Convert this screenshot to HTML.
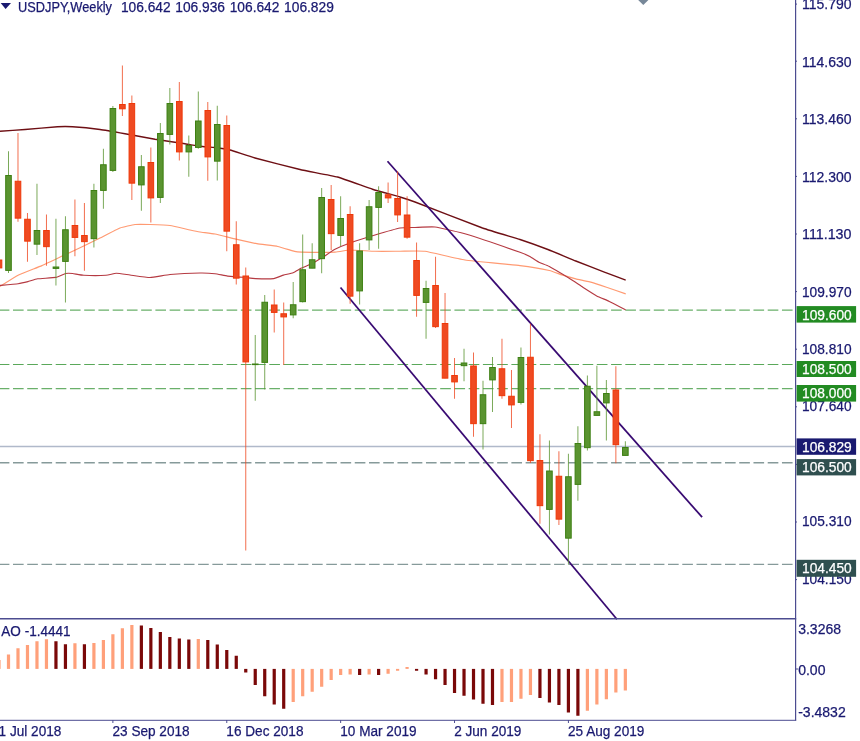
<!DOCTYPE html><html><head><meta charset="utf-8"><title>USDJPY Weekly</title>
<style>html,body{margin:0;padding:0;background:#fff}body{width:860px;height:741px;overflow:hidden}svg{display:block}text{font-family:"Liberation Sans",sans-serif;font-size:14px;fill:#191970;stroke:#191970;stroke-width:0.25px}</style></head><body>
<svg width="860" height="741" viewBox="0 0 860 741">
<rect width="860" height="741" fill="#fff"/>
<line x1="-1.25" y1="310.15" x2="792.6" y2="310.15" stroke="#6ab06a" stroke-width="1.2" stroke-dasharray="10.64 3.6" opacity="1"/>
<line x1="-1.25" y1="364.5" x2="792.6" y2="364.5" stroke="#5aa85a" stroke-width="1.2" stroke-dasharray="10.64 3.6" opacity="1"/>
<line x1="-1.25" y1="388.7" x2="792.6" y2="388.7" stroke="#6ab06a" stroke-width="1.2" stroke-dasharray="10.64 3.6" opacity="1"/>
<line x1="0" y1="446.6" x2="795" y2="446.6" stroke="#b0b9ca" stroke-width="1.5"/>
<line x1="-1.25" y1="462.7" x2="792.6" y2="462.7" stroke="#869a9a" stroke-width="1.4" stroke-dasharray="10.64 3.6" opacity="1"/>
<line x1="-1.25" y1="564.35" x2="792.6" y2="564.35" stroke="#869a9a" stroke-width="1.4" stroke-dasharray="10.64 3.6" opacity="1"/>
<path fill="none" stroke="#ff9a72" stroke-width="1.2" stroke-linejoin="round" d="M0 286.5 C1.21 285.75 15.31 276.69 18.1 275.3 C20.89 273.91 38.92 266.90 41.9 265.6 C44.88 264.30 60.01 257.11 62.8 255.8 C65.59 254.49 81.22 247.19 83.7 246 C86.18 244.81 97.58 239.20 100 238 C102.42 236.80 117.67 228.90 120 228 C122.33 227.10 133.00 224.73 135 224.5 C137.00 224.27 147.67 224.43 150 224.5 C152.33 224.57 167.33 225.13 170 225.5 C172.67 225.87 188.00 229.57 190 230 C192.00 230.43 198.33 231.73 200 232 C201.67 232.27 212.61 233.53 215 234 C217.39 234.47 233.11 238.45 235.9 239.1 C238.69 239.75 254.11 243.21 256.9 243.7 C259.69 244.19 275.29 245.99 277.8 246.5 C280.31 247.01 292.92 251.03 294.5 251.4 C296.08 251.77 298.80 252.05 301.5 252.1 C304.20 252.15 331.77 252.24 335 252.1 C338.23 251.96 347.33 250.06 350 250 C352.67 249.94 371.67 251.17 375 251.25 C378.33 251.33 396.67 251.25 400 251.25 C403.33 251.25 420.67 250.67 425 251.25 C429.33 251.83 458.67 259.04 465 260 C471.33 260.96 514.38 264.90 520 265.6 C525.62 266.30 546.51 269.88 549.3 270.5 C552.09 271.12 560.13 274.35 561.9 274.9 C563.67 275.45 573.94 278.33 575.8 278.8 C577.66 279.27 587.75 281.34 589.8 281.9 C591.85 282.46 604.11 286.40 606.5 287.2 C608.89 288.00 624.42 293.45 625.7 293.9"/>
<path fill="none" stroke="#b53a42" stroke-width="1.15" stroke-linejoin="round" d="M0 285.4 C1.21 285.29 16.24 283.95 18.1 283.7 C19.96 283.45 26.59 281.93 27.9 281.6 C29.21 281.27 35.84 279.08 37.7 278.8 C39.56 278.52 53.94 277.75 55.8 277.4 C57.66 277.05 64.48 273.76 65.6 273.5 C66.72 273.24 71.39 273.38 72.6 273.5 C73.81 273.62 81.47 275.18 83.7 275.3 C85.93 275.42 103.83 275.44 106 275.3 C108.17 275.16 114.65 273.27 116.25 273.25 C117.85 273.23 127.75 274.72 130 275 C132.25 275.28 147.33 277.53 150 277.5 C152.67 277.47 166.67 274.80 170 274.5 C173.33 274.20 197.00 273.05 200 273 C203.00 272.95 213.16 273.49 215 273.7 C216.84 273.91 225.74 275.87 227.6 276.1 C229.46 276.33 241.04 277.03 242.9 277.2 C244.76 277.37 253.45 278.51 255.5 278.6 C257.55 278.69 271.74 278.83 273.6 278.6 C275.46 278.37 282.10 275.49 283.4 275.1 C284.70 274.71 291.89 273.17 293.1 272.7 C294.31 272.23 300.19 268.73 301.5 268.1 C302.81 267.47 311.21 264.07 312.7 263.3 C314.19 262.53 322.31 257.53 323.8 256.6 C325.29 255.67 333.25 250.21 335 249.3 C336.75 248.39 347.33 243.95 350 243 C352.67 242.05 371.67 236.00 375 235 C378.33 234.00 397.33 228.50 400 228 C402.67 227.50 412.67 227.57 415 227.5 C417.33 227.43 431.50 226.53 435 227 C438.50 227.47 461.83 232.81 467.5 234.5 C473.17 236.19 515.85 250.83 520 252.3 C524.15 253.77 528.50 255.82 529.8 256.5 C531.10 257.18 538.20 261.83 539.5 262.5 C540.80 263.17 547.35 265.56 549.3 266.6 C551.25 267.64 566.57 276.73 568.8 278.1 C571.03 279.47 580.94 286.01 582.8 287.2 C584.66 288.39 594.93 294.95 596.7 295.9 C598.47 296.85 607.37 300.47 609.3 301.4 C611.23 302.33 624.61 309.24 625.7 309.8"/>
<path fill="none" stroke="#6e0f14" stroke-width="1.35" stroke-linejoin="round" d="M0 131.25 C1.67 131.13 21.17 129.80 25 129.5 C28.83 129.20 54.33 126.93 57.5 126.75 C60.67 126.57 69.67 126.57 72.5 126.75 C75.33 126.93 96.50 129.03 100 129.5 C103.50 129.97 121.33 133.10 125 133.75 C128.67 134.40 151.00 138.58 155 139.25 C159.00 139.92 182.00 143.28 185 143.75 C188.00 144.22 198.00 146.00 200 146.25 C202.00 146.50 213.00 147.25 215 147.5 C217.00 147.75 227.33 149.30 230 150 C232.67 150.70 250.33 156.70 255 158 C259.67 159.30 294.50 168.23 300 169.5 C305.50 170.77 332.67 175.68 337.5 177 C342.33 178.32 368.33 187.92 372.5 189.25 C376.67 190.58 397.17 196.15 400 197 C402.83 197.85 409.50 199.93 415 202 C420.50 204.07 475.50 225.50 482.5 228 C489.50 230.50 515.64 238.07 520 239.5 C524.36 240.93 544.18 248.07 547.9 249.5 C551.62 250.93 572.08 259.51 575.8 261 C579.52 262.49 600.37 270.62 603.7 271.9 C607.03 273.18 624.23 279.65 625.7 280.2"/>
<line x1="387.5" y1="161.25" x2="702.1" y2="517.2" stroke="#380a72" stroke-width="1.75"/>
<line x1="340.5" y1="287.5" x2="616.9" y2="619.3" stroke="#380a72" stroke-width="1.75"/>
<line x1="-0.99" y1="259.5" x2="-0.99" y2="268" stroke="#ef4a22" stroke-width="1" opacity="0.8"/>
<rect x="-3.79" y="260.00" width="5.6" height="7.90" fill="#ef4a22" stroke="#ee3808" stroke-width="1"/>
<line x1="8.50" y1="151.25" x2="8.50" y2="273" stroke="#5a9430" stroke-width="1" opacity="0.8"/>
<rect x="5.70" y="175.50" width="5.6" height="94.90" fill="#5a9430" stroke="#3d7f12" stroke-width="1"/>
<line x1="17.99" y1="133" x2="17.99" y2="221.75" stroke="#ef4a22" stroke-width="1" opacity="0.8"/>
<rect x="15.19" y="181.25" width="5.6" height="36.90" fill="#ef4a22" stroke="#ee3808" stroke-width="1"/>
<line x1="27.48" y1="213" x2="27.48" y2="261.75" stroke="#ef4a22" stroke-width="1" opacity="0.8"/>
<rect x="24.68" y="219.25" width="5.6" height="21.90" fill="#ef4a22" stroke="#ee3808" stroke-width="1"/>
<line x1="36.97" y1="183.75" x2="36.97" y2="255" stroke="#5a9430" stroke-width="1" opacity="0.8"/>
<rect x="34.17" y="230.50" width="5.6" height="13.65" fill="#5a9430" stroke="#3d7f12" stroke-width="1"/>
<line x1="46.46" y1="214.5" x2="46.46" y2="265.75" stroke="#ef4a22" stroke-width="1" opacity="0.8"/>
<rect x="43.66" y="230.50" width="5.6" height="16.15" fill="#ef4a22" stroke="#ee3808" stroke-width="1"/>
<line x1="55.95" y1="218.75" x2="55.95" y2="285.5" stroke="#5a9430" stroke-width="1" opacity="0.8"/>
<rect x="53.15" y="267.00" width="5.6" height="1.40" fill="#5a9430" stroke="#3d7f12" stroke-width="1"/>
<line x1="65.44" y1="216.25" x2="65.44" y2="302.5" stroke="#5a9430" stroke-width="1" opacity="0.8"/>
<rect x="62.64" y="229.75" width="5.6" height="31.65" fill="#5a9430" stroke="#3d7f12" stroke-width="1"/>
<line x1="74.93" y1="199.5" x2="74.93" y2="256.25" stroke="#ef4a22" stroke-width="1" opacity="0.8"/>
<rect x="72.13" y="225.50" width="5.6" height="11.90" fill="#ef4a22" stroke="#ee3808" stroke-width="1"/>
<line x1="84.42" y1="203" x2="84.42" y2="270.75" stroke="#ef4a22" stroke-width="1" opacity="0.8"/>
<rect x="81.62" y="235.50" width="5.6" height="6.15" fill="#ef4a22" stroke="#ee3808" stroke-width="1"/>
<line x1="93.91" y1="183.75" x2="93.91" y2="247.5" stroke="#5a9430" stroke-width="1" opacity="0.8"/>
<rect x="91.11" y="190.50" width="5.6" height="48.15" fill="#5a9430" stroke="#3d7f12" stroke-width="1"/>
<line x1="103.40" y1="148.75" x2="103.40" y2="208.75" stroke="#5a9430" stroke-width="1" opacity="0.8"/>
<rect x="100.60" y="164.75" width="5.6" height="25.65" fill="#5a9430" stroke="#3d7f12" stroke-width="1"/>
<line x1="112.89" y1="106" x2="112.89" y2="172" stroke="#5a9430" stroke-width="1" opacity="0.8"/>
<rect x="110.09" y="108.50" width="5.6" height="61.90" fill="#5a9430" stroke="#3d7f12" stroke-width="1"/>
<line x1="122.38" y1="65.5" x2="122.38" y2="116" stroke="#ef4a22" stroke-width="1" opacity="0.8"/>
<rect x="119.58" y="104.50" width="5.6" height="4.30" fill="#ef4a22" stroke="#ee3808" stroke-width="1"/>
<line x1="131.87" y1="95.5" x2="131.87" y2="200" stroke="#ef4a22" stroke-width="1" opacity="0.8"/>
<rect x="129.07" y="103.50" width="5.6" height="79.65" fill="#ef4a22" stroke="#ee3808" stroke-width="1"/>
<line x1="141.36" y1="155" x2="141.36" y2="210.75" stroke="#5a9430" stroke-width="1" opacity="0.8"/>
<rect x="138.56" y="166.75" width="5.6" height="18.15" fill="#5a9430" stroke="#3d7f12" stroke-width="1"/>
<line x1="150.85" y1="147.5" x2="150.85" y2="222.5" stroke="#ef4a22" stroke-width="1" opacity="0.8"/>
<rect x="148.05" y="162.50" width="5.6" height="35.40" fill="#ef4a22" stroke="#ee3808" stroke-width="1"/>
<line x1="160.34" y1="123" x2="160.34" y2="203" stroke="#5a9430" stroke-width="1" opacity="0.8"/>
<rect x="157.54" y="133.50" width="5.6" height="63.90" fill="#5a9430" stroke="#3d7f12" stroke-width="1"/>
<line x1="169.83" y1="88" x2="169.83" y2="144.5" stroke="#5a9430" stroke-width="1" opacity="0.8"/>
<rect x="167.03" y="103.50" width="5.6" height="30.90" fill="#5a9430" stroke="#3d7f12" stroke-width="1"/>
<line x1="179.32" y1="82" x2="179.32" y2="160.5" stroke="#ef4a22" stroke-width="1" opacity="0.8"/>
<rect x="176.52" y="101.50" width="5.6" height="50.40" fill="#ef4a22" stroke="#ee3808" stroke-width="1"/>
<line x1="188.81" y1="135.5" x2="188.81" y2="176.75" stroke="#5a9430" stroke-width="1" opacity="0.8"/>
<rect x="186.01" y="145.50" width="5.6" height="6.40" fill="#5a9430" stroke="#3d7f12" stroke-width="1"/>
<line x1="198.30" y1="91.5" x2="198.30" y2="148.75" stroke="#5a9430" stroke-width="1" opacity="0.8"/>
<rect x="195.50" y="121.00" width="5.6" height="26.40" fill="#5a9430" stroke="#3d7f12" stroke-width="1"/>
<line x1="207.79" y1="102" x2="207.79" y2="180.75" stroke="#ef4a22" stroke-width="1" opacity="0.8"/>
<rect x="204.99" y="110.50" width="5.6" height="46.40" fill="#ef4a22" stroke="#ee3808" stroke-width="1"/>
<line x1="217.28" y1="105.75" x2="217.28" y2="180.5" stroke="#5a9430" stroke-width="1" opacity="0.8"/>
<rect x="214.48" y="124.50" width="5.6" height="36.65" fill="#5a9430" stroke="#3d7f12" stroke-width="1"/>
<line x1="226.77" y1="115.5" x2="226.77" y2="251.25" stroke="#ef4a22" stroke-width="1" opacity="0.8"/>
<rect x="223.97" y="125.50" width="5.6" height="105.65" fill="#ef4a22" stroke="#ee3808" stroke-width="1"/>
<line x1="236.26" y1="221.25" x2="236.26" y2="284.5" stroke="#ef4a22" stroke-width="1" opacity="0.8"/>
<rect x="233.46" y="244.75" width="5.6" height="33.40" fill="#ef4a22" stroke="#ee3808" stroke-width="1"/>
<line x1="245.75" y1="267.5" x2="245.75" y2="550.5" stroke="#ef4a22" stroke-width="1" opacity="0.8"/>
<rect x="242.95" y="276.00" width="5.6" height="85.90" fill="#ef4a22" stroke="#ee3808" stroke-width="1"/>
<line x1="255.24" y1="335" x2="255.24" y2="400.75" stroke="#5a9430" stroke-width="1" opacity="0.8"/>
<rect x="251.94" y="363.5" width="6.6" height="1.60" fill="#3d7f12"/>
<line x1="264.73" y1="295" x2="264.73" y2="389.5" stroke="#5a9430" stroke-width="1" opacity="0.8"/>
<rect x="261.93" y="302.25" width="5.6" height="60.15" fill="#5a9430" stroke="#3d7f12" stroke-width="1"/>
<line x1="274.22" y1="289.5" x2="274.22" y2="332.5" stroke="#ef4a22" stroke-width="1" opacity="0.8"/>
<rect x="271.42" y="305.00" width="5.6" height="7.40" fill="#ef4a22" stroke="#ee3808" stroke-width="1"/>
<line x1="283.71" y1="302.5" x2="283.71" y2="365" stroke="#ef4a22" stroke-width="1" opacity="0.8"/>
<rect x="280.91" y="313.75" width="5.6" height="3.15" fill="#ef4a22" stroke="#ee3808" stroke-width="1"/>
<line x1="293.20" y1="282" x2="293.20" y2="318.25" stroke="#5a9430" stroke-width="1" opacity="0.8"/>
<rect x="290.40" y="304.75" width="5.6" height="10.15" fill="#5a9430" stroke="#3d7f12" stroke-width="1"/>
<line x1="302.69" y1="234.5" x2="302.69" y2="302.5" stroke="#5a9430" stroke-width="1" opacity="0.8"/>
<rect x="299.89" y="269.75" width="5.6" height="31.90" fill="#5a9430" stroke="#3d7f12" stroke-width="1"/>
<line x1="312.18" y1="243.25" x2="312.18" y2="268.25" stroke="#5a9430" stroke-width="1" opacity="0.8"/>
<rect x="309.38" y="259.75" width="5.6" height="8.40" fill="#5a9430" stroke="#3d7f12" stroke-width="1"/>
<line x1="321.67" y1="188" x2="321.67" y2="273.25" stroke="#5a9430" stroke-width="1" opacity="0.8"/>
<rect x="318.87" y="197.50" width="5.6" height="61.15" fill="#5a9430" stroke="#3d7f12" stroke-width="1"/>
<line x1="331.16" y1="185" x2="331.16" y2="250" stroke="#ef4a22" stroke-width="1" opacity="0.8"/>
<rect x="328.36" y="199.50" width="5.6" height="34.15" fill="#ef4a22" stroke="#ee3808" stroke-width="1"/>
<line x1="340.65" y1="196.25" x2="340.65" y2="246.25" stroke="#5a9430" stroke-width="1" opacity="0.8"/>
<rect x="337.85" y="218.50" width="5.6" height="16.90" fill="#5a9430" stroke="#3d7f12" stroke-width="1"/>
<line x1="350.14" y1="206.25" x2="350.14" y2="303.75" stroke="#ef4a22" stroke-width="1" opacity="0.8"/>
<rect x="347.34" y="214.50" width="5.6" height="81.65" fill="#ef4a22" stroke="#ee3808" stroke-width="1"/>
<line x1="359.63" y1="243.25" x2="359.63" y2="304.5" stroke="#5a9430" stroke-width="1" opacity="0.8"/>
<rect x="356.83" y="251.00" width="5.6" height="39.90" fill="#5a9430" stroke="#3d7f12" stroke-width="1"/>
<line x1="369.12" y1="200" x2="369.12" y2="250" stroke="#5a9430" stroke-width="1" opacity="0.8"/>
<rect x="366.32" y="206.75" width="5.6" height="33.15" fill="#5a9430" stroke="#3d7f12" stroke-width="1"/>
<line x1="378.61" y1="186.25" x2="378.61" y2="248.75" stroke="#5a9430" stroke-width="1" opacity="0.8"/>
<rect x="375.81" y="192.50" width="5.6" height="14.90" fill="#5a9430" stroke="#3d7f12" stroke-width="1"/>
<line x1="388.10" y1="182.5" x2="388.10" y2="203" stroke="#ef4a22" stroke-width="1" opacity="0.8"/>
<rect x="385.30" y="194.75" width="5.6" height="3.15" fill="#ef4a22" stroke="#ee3808" stroke-width="1"/>
<line x1="397.59" y1="171.25" x2="397.59" y2="222" stroke="#ef4a22" stroke-width="1" opacity="0.8"/>
<rect x="394.79" y="198.50" width="5.6" height="16.40" fill="#ef4a22" stroke="#ee3808" stroke-width="1"/>
<line x1="407.08" y1="196.25" x2="407.08" y2="238.75" stroke="#ef4a22" stroke-width="1" opacity="0.8"/>
<rect x="404.28" y="215.00" width="5.6" height="22.15" fill="#ef4a22" stroke="#ee3808" stroke-width="1"/>
<line x1="416.57" y1="242.5" x2="416.57" y2="316.75" stroke="#ef4a22" stroke-width="1" opacity="0.8"/>
<rect x="413.77" y="260.50" width="5.6" height="34.90" fill="#ef4a22" stroke="#ee3808" stroke-width="1"/>
<line x1="426.06" y1="280.75" x2="426.06" y2="338.75" stroke="#5a9430" stroke-width="1" opacity="0.8"/>
<rect x="423.26" y="288.50" width="5.6" height="13.90" fill="#5a9430" stroke="#3d7f12" stroke-width="1"/>
<line x1="435.55" y1="256.75" x2="435.55" y2="328" stroke="#ef4a22" stroke-width="1" opacity="0.8"/>
<rect x="432.75" y="285.50" width="5.6" height="41.15" fill="#ef4a22" stroke="#ee3808" stroke-width="1"/>
<line x1="445.04" y1="293" x2="445.04" y2="378.25" stroke="#ef4a22" stroke-width="1" opacity="0.8"/>
<rect x="442.24" y="323.50" width="5.6" height="54.65" fill="#ef4a22" stroke="#ee3808" stroke-width="1"/>
<line x1="454.53" y1="358" x2="454.53" y2="398.75" stroke="#ef4a22" stroke-width="1" opacity="0.8"/>
<rect x="451.73" y="375.50" width="5.6" height="6.40" fill="#ef4a22" stroke="#ee3808" stroke-width="1"/>
<line x1="464.02" y1="348.75" x2="464.02" y2="381.25" stroke="#5a9430" stroke-width="1" opacity="0.8"/>
<rect x="461.22" y="363.00" width="5.6" height="2.65" fill="#5a9430" stroke="#3d7f12" stroke-width="1"/>
<line x1="473.51" y1="352.5" x2="473.51" y2="436.75" stroke="#ef4a22" stroke-width="1" opacity="0.8"/>
<rect x="470.71" y="366.00" width="5.6" height="57.65" fill="#ef4a22" stroke="#ee3808" stroke-width="1"/>
<line x1="483.00" y1="380.75" x2="483.00" y2="449.5" stroke="#5a9430" stroke-width="1" opacity="0.8"/>
<rect x="480.20" y="394.75" width="5.6" height="28.90" fill="#5a9430" stroke="#3d7f12" stroke-width="1"/>
<line x1="492.49" y1="357" x2="492.49" y2="412" stroke="#5a9430" stroke-width="1" opacity="0.8"/>
<rect x="489.69" y="367.50" width="5.6" height="12.40" fill="#5a9430" stroke="#3d7f12" stroke-width="1"/>
<line x1="501.98" y1="338.75" x2="501.98" y2="398.75" stroke="#ef4a22" stroke-width="1" opacity="0.8"/>
<rect x="499.18" y="368.75" width="5.6" height="26.90" fill="#ef4a22" stroke="#ee3808" stroke-width="1"/>
<line x1="511.47" y1="370" x2="511.47" y2="428" stroke="#ef4a22" stroke-width="1" opacity="0.8"/>
<rect x="508.67" y="396.25" width="5.6" height="8.65" fill="#ef4a22" stroke="#ee3808" stroke-width="1"/>
<line x1="520.96" y1="347.5" x2="520.96" y2="404.5" stroke="#5a9430" stroke-width="1" opacity="0.8"/>
<rect x="518.16" y="357.50" width="5.6" height="44.90" fill="#5a9430" stroke="#3d7f12" stroke-width="1"/>
<line x1="530.45" y1="323.75" x2="530.45" y2="463" stroke="#ef4a22" stroke-width="1" opacity="0.8"/>
<rect x="527.65" y="357.25" width="5.6" height="103.40" fill="#ef4a22" stroke="#ee3808" stroke-width="1"/>
<line x1="539.94" y1="434.25" x2="539.94" y2="523.75" stroke="#ef4a22" stroke-width="1" opacity="0.8"/>
<rect x="537.14" y="460.50" width="5.6" height="45.15" fill="#ef4a22" stroke="#ee3808" stroke-width="1"/>
<line x1="549.43" y1="440.5" x2="549.43" y2="534.5" stroke="#5a9430" stroke-width="1" opacity="0.8"/>
<rect x="546.63" y="471.00" width="5.6" height="38.40" fill="#5a9430" stroke="#3d7f12" stroke-width="1"/>
<line x1="558.92" y1="451.25" x2="558.92" y2="525" stroke="#ef4a22" stroke-width="1" opacity="0.8"/>
<rect x="556.12" y="476.25" width="5.6" height="42.90" fill="#ef4a22" stroke="#ee3808" stroke-width="1"/>
<line x1="568.41" y1="453.75" x2="568.41" y2="564.25" stroke="#5a9430" stroke-width="1" opacity="0.8"/>
<rect x="565.61" y="476.75" width="5.6" height="61.40" fill="#5a9430" stroke="#3d7f12" stroke-width="1"/>
<line x1="577.90" y1="426.25" x2="577.90" y2="500.75" stroke="#5a9430" stroke-width="1" opacity="0.8"/>
<rect x="575.10" y="443.50" width="5.6" height="40.90" fill="#5a9430" stroke="#3d7f12" stroke-width="1"/>
<line x1="587.39" y1="375.5" x2="587.39" y2="450.5" stroke="#5a9430" stroke-width="1" opacity="0.8"/>
<rect x="584.59" y="386.25" width="5.6" height="61.40" fill="#5a9430" stroke="#3d7f12" stroke-width="1"/>
<line x1="596.88" y1="365.75" x2="596.88" y2="415.5" stroke="#5a9430" stroke-width="1" opacity="0.8"/>
<rect x="594.08" y="411.75" width="5.6" height="3.65" fill="#5a9430" stroke="#3d7f12" stroke-width="1"/>
<line x1="606.37" y1="380" x2="606.37" y2="440.5" stroke="#5a9430" stroke-width="1" opacity="0.8"/>
<rect x="603.57" y="393.50" width="5.6" height="9.40" fill="#5a9430" stroke="#3d7f12" stroke-width="1"/>
<line x1="615.86" y1="366.25" x2="615.86" y2="463.25" stroke="#ef4a22" stroke-width="1" opacity="0.8"/>
<rect x="613.06" y="390.00" width="5.6" height="54.65" fill="#ef4a22" stroke="#ee3808" stroke-width="1"/>
<line x1="625.35" y1="441.25" x2="625.35" y2="455.5" stroke="#5a9430" stroke-width="1" opacity="0.8"/>
<rect x="622.55" y="447.50" width="5.6" height="7.90" fill="#5a9430" stroke="#3d7f12" stroke-width="1"/>
<rect x="-2.59" y="660" width="3.2" height="8.90" fill="#ffa07a"/>
<rect x="6.90" y="654.5" width="3.2" height="14.40" fill="#ffa07a"/>
<rect x="16.39" y="648.25" width="3.2" height="20.65" fill="#ffa07a"/>
<rect x="25.88" y="645" width="3.2" height="23.90" fill="#ffa07a"/>
<rect x="35.37" y="641.25" width="3.2" height="27.65" fill="#ffa07a"/>
<rect x="44.86" y="639.25" width="3.2" height="29.65" fill="#ffa07a"/>
<rect x="54.35" y="641.25" width="3.2" height="27.65" fill="#7a0808"/>
<rect x="63.84" y="644.25" width="3.2" height="24.65" fill="#7a0808"/>
<rect x="73.33" y="643.25" width="3.2" height="25.65" fill="#ffa07a"/>
<rect x="82.82" y="644.25" width="3.2" height="24.65" fill="#7a0808"/>
<rect x="92.31" y="643" width="3.2" height="25.90" fill="#ffa07a"/>
<rect x="101.80" y="640" width="3.2" height="28.90" fill="#ffa07a"/>
<rect x="111.29" y="634.25" width="3.2" height="34.65" fill="#ffa07a"/>
<rect x="120.78" y="628.25" width="3.2" height="40.65" fill="#ffa07a"/>
<rect x="130.27" y="625" width="3.2" height="43.90" fill="#ffa07a"/>
<rect x="139.76" y="625.5" width="3.2" height="43.40" fill="#7a0808"/>
<rect x="149.25" y="628" width="3.2" height="40.90" fill="#7a0808"/>
<rect x="158.74" y="632" width="3.2" height="36.90" fill="#7a0808"/>
<rect x="168.23" y="637" width="3.2" height="31.90" fill="#7a0808"/>
<rect x="177.72" y="638.5" width="3.2" height="30.40" fill="#7a0808"/>
<rect x="187.21" y="639.5" width="3.2" height="29.40" fill="#7a0808"/>
<rect x="196.70" y="639" width="3.2" height="29.90" fill="#ffa07a"/>
<rect x="206.19" y="640" width="3.2" height="28.90" fill="#7a0808"/>
<rect x="215.68" y="644.5" width="3.2" height="24.40" fill="#7a0808"/>
<rect x="225.17" y="650" width="3.2" height="18.90" fill="#7a0808"/>
<rect x="234.66" y="655.75" width="3.2" height="13.15" fill="#7a0808"/>
<rect x="244.15" y="668.9" width="3.2" height="3.60" fill="#7a0808"/>
<rect x="253.64" y="668.9" width="3.2" height="16.10" fill="#7a0808"/>
<rect x="263.13" y="668.9" width="3.2" height="27.35" fill="#7a0808"/>
<rect x="272.62" y="668.9" width="3.2" height="35.60" fill="#7a0808"/>
<rect x="282.11" y="668.9" width="3.2" height="39.85" fill="#7a0808"/>
<rect x="291.60" y="668.9" width="3.2" height="33.10" fill="#ffa07a"/>
<rect x="301.09" y="668.9" width="3.2" height="27.35" fill="#ffa07a"/>
<rect x="310.58" y="668.9" width="3.2" height="22.85" fill="#ffa07a"/>
<rect x="320.07" y="668.9" width="3.2" height="17.85" fill="#ffa07a"/>
<rect x="329.56" y="668.9" width="3.2" height="11.10" fill="#ffa07a"/>
<rect x="339.05" y="668.9" width="3.2" height="6.10" fill="#ffa07a"/>
<rect x="348.54" y="668.9" width="3.2" height="5.60" fill="#ffa07a"/>
<rect x="358.03" y="668.9" width="3.2" height="6.10" fill="#7a0808"/>
<rect x="367.52" y="668.9" width="3.2" height="5.60" fill="#ffa07a"/>
<rect x="377.01" y="668.9" width="3.2" height="6.10" fill="#7a0808"/>
<rect x="386.50" y="668.9" width="3.2" height="4.85" fill="#ffa07a"/>
<rect x="395.99" y="668.9" width="3.2" height="1.85" fill="#ffa07a"/>
<rect x="405.48" y="667" width="3.2" height="1.90" fill="#ffa07a"/>
<rect x="414.97" y="668.9" width="3.2" height="1.85" fill="#7a0808"/>
<rect x="424.46" y="668.9" width="3.2" height="5.60" fill="#7a0808"/>
<rect x="433.95" y="668.9" width="3.2" height="10.35" fill="#7a0808"/>
<rect x="443.44" y="668.9" width="3.2" height="16.10" fill="#7a0808"/>
<rect x="452.93" y="668.9" width="3.2" height="24.10" fill="#7a0808"/>
<rect x="462.42" y="668.9" width="3.2" height="26.85" fill="#7a0808"/>
<rect x="471.91" y="668.9" width="3.2" height="30.60" fill="#7a0808"/>
<rect x="481.40" y="668.9" width="3.2" height="34.85" fill="#7a0808"/>
<rect x="490.89" y="668.9" width="3.2" height="36.10" fill="#7a0808"/>
<rect x="500.38" y="668.9" width="3.2" height="33.10" fill="#ffa07a"/>
<rect x="509.87" y="668.9" width="3.2" height="33.10" fill="#ffa07a"/>
<rect x="519.36" y="668.9" width="3.2" height="29.85" fill="#ffa07a"/>
<rect x="528.85" y="668.9" width="3.2" height="26.10" fill="#ffa07a"/>
<rect x="538.34" y="668.9" width="3.2" height="29.10" fill="#7a0808"/>
<rect x="547.83" y="668.9" width="3.2" height="33.60" fill="#7a0808"/>
<rect x="557.32" y="668.9" width="3.2" height="36.10" fill="#7a0808"/>
<rect x="566.81" y="668.9" width="3.2" height="43.60" fill="#7a0808"/>
<rect x="576.30" y="668.9" width="3.2" height="46.85" fill="#7a0808"/>
<rect x="585.79" y="668.9" width="3.2" height="41.85" fill="#ffa07a"/>
<rect x="595.28" y="668.9" width="3.2" height="35.60" fill="#ffa07a"/>
<rect x="604.77" y="668.9" width="3.2" height="30.35" fill="#ffa07a"/>
<rect x="614.26" y="668.9" width="3.2" height="23.60" fill="#ffa07a"/>
<rect x="623.75" y="668.9" width="3.2" height="21.60" fill="#ffa07a"/>
<line x1="795.6" y1="0" x2="795.6" y2="720.6" stroke="#4c4c90" stroke-width="1.2"/>
<line x1="0" y1="618.7" x2="796.2" y2="618.7" stroke="#4c4c90" stroke-width="1.45"/>
<line x1="0" y1="720.3" x2="796.2" y2="720.3" stroke="#4c4c90" stroke-width="1"/>
<line x1="795.6" y1="4.1" x2="797" y2="4.1" stroke="#4c4c90" stroke-width="1"/>
<text x="802" y="9.4" textLength="49.5" lengthAdjust="spacingAndGlyphs">115.790</text>
<line x1="795.6" y1="61.2" x2="797" y2="61.2" stroke="#4c4c90" stroke-width="1"/>
<text x="802" y="66.5" textLength="49.5" lengthAdjust="spacingAndGlyphs">114.630</text>
<line x1="795.6" y1="118.8" x2="797" y2="118.8" stroke="#4c4c90" stroke-width="1"/>
<text x="802" y="124.0" textLength="49.5" lengthAdjust="spacingAndGlyphs">113.460</text>
<line x1="795.6" y1="176.4" x2="797" y2="176.4" stroke="#4c4c90" stroke-width="1"/>
<text x="802" y="181.5" textLength="49.5" lengthAdjust="spacingAndGlyphs">112.300</text>
<line x1="795.6" y1="234.0" x2="797" y2="234.0" stroke="#4c4c90" stroke-width="1"/>
<text x="802" y="238.8" textLength="49.5" lengthAdjust="spacingAndGlyphs">111.130</text>
<line x1="795.6" y1="291.6" x2="797" y2="291.6" stroke="#4c4c90" stroke-width="1"/>
<text x="802" y="296.8" textLength="49.5" lengthAdjust="spacingAndGlyphs">109.970</text>
<line x1="795.6" y1="349.2" x2="797" y2="349.2" stroke="#4c4c90" stroke-width="1"/>
<text x="802" y="353.5" textLength="49.5" lengthAdjust="spacingAndGlyphs">108.810</text>
<line x1="795.6" y1="406.8" x2="797" y2="406.8" stroke="#4c4c90" stroke-width="1"/>
<text x="802" y="410.9" textLength="49.5" lengthAdjust="spacingAndGlyphs">107.640</text>
<line x1="795.6" y1="464.4" x2="797" y2="464.4" stroke="#4c4c90" stroke-width="1"/>
<line x1="795.6" y1="522.0" x2="797" y2="522.0" stroke="#4c4c90" stroke-width="1"/>
<text x="802" y="526.1" textLength="49.5" lengthAdjust="spacingAndGlyphs">105.310</text>
<line x1="795.6" y1="579.6" x2="797" y2="579.6" stroke="#4c4c90" stroke-width="1"/>
<text x="802" y="584.0" textLength="49.5" lengthAdjust="spacingAndGlyphs">104.150</text>
<rect x="796.6" y="306.1" width="59.5" height="16.5" fill="#228b22"/>
<text x="802" y="319.5" textLength="49.7" lengthAdjust="spacingAndGlyphs" style="fill:#fff;stroke:#fff">109.600</text>
<rect x="796.6" y="361" width="59.5" height="16.0" fill="#228b22"/>
<text x="802" y="374.1" textLength="49.7" lengthAdjust="spacingAndGlyphs" style="fill:#fff;stroke:#fff">108.500</text>
<rect x="796.6" y="385" width="59.5" height="16.6" fill="#228b22"/>
<text x="802" y="398.4" textLength="49.7" lengthAdjust="spacingAndGlyphs" style="fill:#fff;stroke:#fff">108.000</text>
<rect x="796.6" y="438.4" width="59.5" height="16.4" fill="#191970"/>
<text x="802" y="451.7" textLength="49.7" lengthAdjust="spacingAndGlyphs" style="fill:#fff;stroke:#fff">106.829</text>
<rect x="796.6" y="459.1" width="59.5" height="16.3" fill="#2f4f4f"/>
<text x="802" y="472.4" textLength="49.7" lengthAdjust="spacingAndGlyphs" style="fill:#fff;stroke:#fff">106.500</text>
<rect x="796.6" y="559.8" width="59.5" height="17.0" fill="#2f4f4f"/>
<text x="802" y="573.4" textLength="49.7" lengthAdjust="spacingAndGlyphs" style="fill:#fff;stroke:#fff">104.450</text>
<text x="798.2" y="634.4">3.3268</text>
<text x="798.2" y="674.6">0.00</text>
<text x="798.2" y="716.9">-3.4832</text>
<line x1="795.6" y1="669" x2="798" y2="669" stroke="#4c4c90" stroke-width="1"/>
<line x1="-0.99" y1="720" x2="-0.99" y2="723" stroke="#4c4c90" stroke-width="1"/>
<text x="-1.39" y="736.4" textLength="62.73" lengthAdjust="spacingAndGlyphs">1 Jul 2018</text>
<line x1="112.89" y1="720" x2="112.89" y2="723" stroke="#4c4c90" stroke-width="1"/>
<text x="112.49" y="736.4" textLength="77.10" lengthAdjust="spacingAndGlyphs">23 Sep 2018</text>
<line x1="226.77" y1="720" x2="226.77" y2="723" stroke="#4c4c90" stroke-width="1"/>
<text x="226.37" y="736.4" textLength="77.09" lengthAdjust="spacingAndGlyphs">16 Dec 2018</text>
<line x1="340.65" y1="720" x2="340.65" y2="723" stroke="#4c4c90" stroke-width="1"/>
<text x="340.25" y="736.4" textLength="76.33" lengthAdjust="spacingAndGlyphs">10 Mar 2019</text>
<line x1="454.53" y1="720" x2="454.53" y2="723" stroke="#4c4c90" stroke-width="1"/>
<text x="454.13" y="736.4" textLength="67.27" lengthAdjust="spacingAndGlyphs">2 Jun 2019</text>
<line x1="568.41" y1="720" x2="568.41" y2="723" stroke="#4c4c90" stroke-width="1"/>
<text x="568.01" y="736.4" textLength="76.35" lengthAdjust="spacingAndGlyphs">25 Aug 2019</text>
<path d="M0.7 3.1 L11 3.1 L5.6 9 Z" fill="#191970"/>
<text x="18.1" y="12.2" textLength="93.9" lengthAdjust="spacingAndGlyphs">USDJPY,Weekly</text>
<text x="120.9" y="12.2" textLength="49.7" lengthAdjust="spacingAndGlyphs">106.642</text>
<text x="175.3" y="12.2" textLength="49.7" lengthAdjust="spacingAndGlyphs">106.936</text>
<text x="229.7" y="12.2" textLength="49.7" lengthAdjust="spacingAndGlyphs">106.642</text>
<text x="284.1" y="12.2" textLength="49.7" lengthAdjust="spacingAndGlyphs">106.829</text>
<text x="1.3" y="636" textLength="69.31" lengthAdjust="spacingAndGlyphs">AO -1.4441</text>
<path d="M637.2 -1 L649.4 -1 L643.3 5.1 Z" fill="#778899"/>
</svg></body></html>
